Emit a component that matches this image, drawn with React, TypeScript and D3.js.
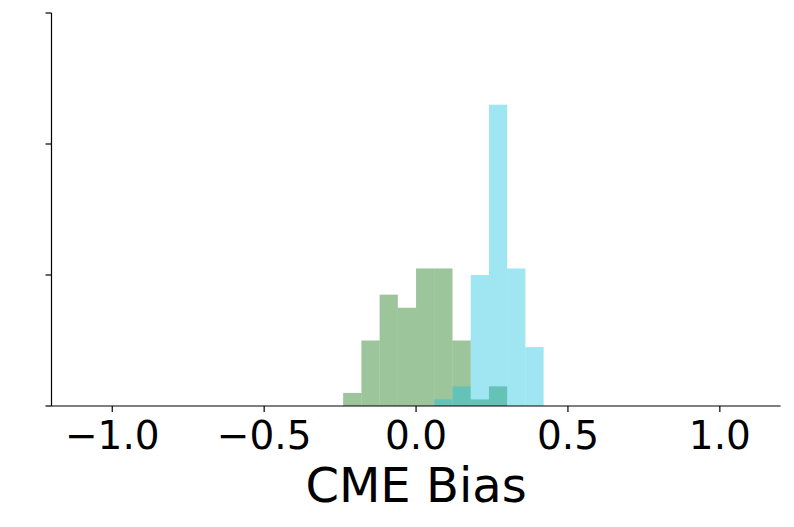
import React from 'react';
import * as d3 from 'd3';

// histogram bins (bias) and counts for the two runs
const greenEdges = [-0.24, -0.18, -0.12, -0.06, 0.0, 0.06, 0.12, 0.18, 0.24, 0.30];
const greenCounts = [2, 10, 17, 15, 21, 21, 10, 1, 3];

const blueEdges = [0.06, 0.12, 0.18, 0.24, 0.30, 0.36, 0.42];
const blueCounts = [1, 3, 20, 46, 21, 9];

const xTicks = [-1.0, -0.5, 0.0, 0.5, 1.0];
const yTicks = [0, 20, 40, 60];

export default function App() {
    const width = 794, height = 527;
    const margin = {top: 13, right: 13.4, bottom: 121, left: 51.5};

    const x = d3.scaleLinear()
        .domain([-1.2, 1.2])
        .range([margin.left, width - margin.right]);

    const y = d3.scaleLinear()
        .domain([0, 60])
        .range([height - margin.bottom, margin.top]);

    const fmt = d3.format('.1f');
    const font = 'DejaVu Sans, sans-serif';

    const bars = (edges, counts, fill, key) => counts.map((c, i) => (
        <rect key={key + i}
              x={x(edges[i])}
              y={y(c)}
              width={x(edges[i + 1]) - x(edges[i])}
              height={y(0) - y(c)}
              fill={fill}
              fillOpacity={0.4}/>
    ));

    return (
        <svg width={width} height={height} style={{position: 'absolute', left: 0, top: 0}}>
            <rect width={width} height={height} fill="#fff"/>
            {bars(greenEdges, greenCounts, '#0a6e08', 'g')}
            {bars(blueEdges, blueCounts, '#0fc0de', 'b')}

            {/* left spine */}
            <line x1={x(-1.2)} x2={x(-1.2)} y1={y(0)} y2={y(60)} stroke="#000" strokeWidth={1.2}/>
            {yTicks.map(t => (
                <line key={'yt' + t} x1={x(-1.2) - 6} x2={x(-1.2)} y1={y(t)} y2={y(t)} stroke="#000" strokeWidth={1.2}/>
            ))}

            {/* bottom spine */}
            <line x1={x(-1.2)} x2={x(1.2)} y1={y(0)} y2={y(0)} stroke="#000" strokeWidth={1.2}/>
            {xTicks.map(t => (
                <g key={'xt' + t}>
                    <line x1={x(t)} x2={x(t)} y1={y(0)} y2={y(0) + 6} stroke="#000" strokeWidth={1.2}/>
                    <text x={x(t)} y={449} textAnchor="middle" fontFamily={font} fontSize={39} fill="#000">
                        {fmt(t)}
                    </text>
                </g>
            ))}

            <text x={x(0)} y={502} textAnchor="middle" fontFamily={font} fontSize={48} fill="#000">CME Bias</text>
        </svg>
    );
}
